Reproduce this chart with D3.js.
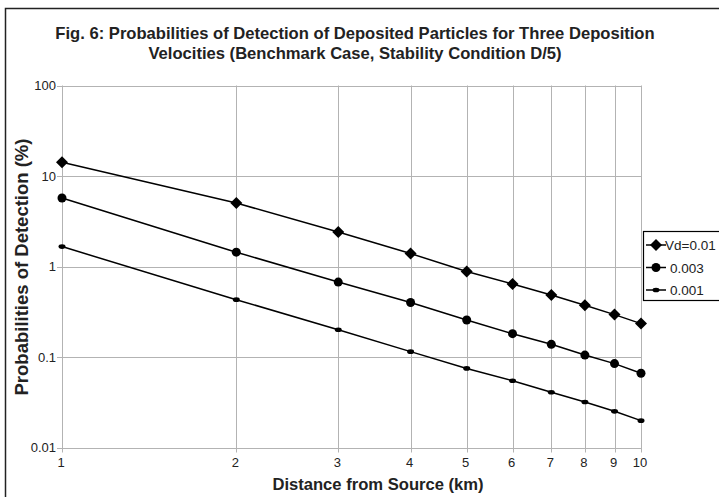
<!DOCTYPE html>
<html lang="en">
  <head>
    <meta charset="utf-8">
    <title>Fig. 6</title>
    <style>
      body { margin: 0; background: #fff; }
      svg { display: block; font-family: "Liberation Sans", Arial, sans-serif; }
    </style>
  </head>
  <body>
    <svg class="chart"></svg>

    <script src="https://d3js.org/d3.v7.min.js"></script>
    <script type="text/javascript">
      // data
      var distances = [1, 2, 3, 4, 5, 6, 7, 8, 9, 10];
      var vd001 = [14.2, 5.03, 2.40, 1.39, 0.88, 0.64, 0.484, 0.373, 0.294, 0.234];
      var vd0003 = [5.71, 1.44, 0.673, 0.40, 0.256, 0.181, 0.138, 0.105, 0.0845, 0.0662];
      var vd0001 = [1.66, 0.43, 0.200, 0.1146, 0.0748, 0.0546, 0.0408, 0.0318, 0.0251, 0.0198];
      var seriesNames = ['Vd=0.01', '0.003', '0.001'];
      var yTicks = [0.01, 0.1, 1, 10, 100];
      var xTicks = [1, 2, 3, 4, 5, 6, 7, 8, 9, 10];

      var w = 719, h = 497;
      var svg = d3.select('.chart').attr('width', w).attr('height', h);

      // outer frame
      svg.append('rect')
         .attr('x', 5.5).attr('y', 8.5)
         .attr('width', 740).attr('height', 520)
         .attr('fill', 'none')
         .attr('stroke', '#222')
         .attr('stroke-width', 1.5);

      var pLeft = 62, pRight = 641, pTop = 85.5, pBottom = 447.5;

      var x = d3.scaleLog().domain([1, 10]).range([pLeft, pRight]);
      var y = d3.scaleLog().domain([0.01, 100]).range([pBottom, pTop]);

      // gridlines
      svg.append('g').selectAll('line')
         .data(xTicks)
         .enter().append('line')
         .attr('x1', function(d) { return Math.round(x(d)) + 0.5; })
         .attr('x2', function(d) { return Math.round(x(d)) + 0.5; })
         .attr('y1', pTop).attr('y2', pBottom + 5)
         .attr('stroke', '#b3b3b3').attr('stroke-width', 1);

      svg.append('g').selectAll('line')
         .data(yTicks)
         .enter().append('line')
         .attr('x1', pLeft - 5).attr('x2', pRight)
         .attr('y1', function(d) { return Math.round(y(d)) + 0.5; })
         .attr('y2', function(d) { return Math.round(y(d)) + 0.5; })
         .attr('stroke', '#b3b3b3').attr('stroke-width', 1);

      // tick labels
      svg.append('g').selectAll('text')
         .data(yTicks)
         .enter().append('text')
         .attr('x', pLeft - 6)
         .attr('y', function(d) { return y(d) + 4.5; })
         .attr('text-anchor', 'end')
         .attr('font-size', 13)
         .attr('fill', '#222')
         .text(function(d) { return d; });

      svg.append('g').selectAll('text')
         .data(xTicks)
         .enter().append('text')
         .attr('x', function(d) { return x(d) - 1; })
         .attr('y', pBottom + 19)
         .attr('text-anchor', 'middle')
         .attr('font-size', 13)
         .attr('fill', '#222')
         .text(function(d) { return d; });

      // titles
      var title = svg.append('text')
         .attr('text-anchor', 'middle')
         .attr('font-size', 16.6)
         .attr('font-weight', 'bold')
         .attr('fill', '#222');
      title.append('tspan').attr('x', 355).attr('y', 39)
           .text('Fig. 6: Probabilities of Detection of Deposited Particles for Three Deposition');
      title.append('tspan').attr('x', 355).attr('y', 59)
           .text('Velocities (Benchmark Case, Stability Condition D/5)');

      svg.append('text')
         .attr('x', 378).attr('y', 490)
         .attr('text-anchor', 'middle')
         .attr('font-size', 16.6)
         .attr('font-weight', 'bold')
         .attr('fill', '#222')
         .text('Distance from Source (km)');

      svg.append('text')
         .attr('transform', 'translate(28,267) rotate(-90)')
         .attr('text-anchor', 'middle')
         .attr('font-size', 18.5)
         .attr('font-weight', 'bold')
         .attr('fill', '#222')
         .text('Probabilities of Detection (%)');

      // series
      var allSeries = [vd001, vd0003, vd0001];
      var line = d3.line()
         .x(function(d, i) { return x(distances[i]); })
         .y(function(d) { return y(d); });

      function drawMarker(g, k) {
        if (k === 0) {
          g.append('path').attr('d', 'M0,-6L6,0L0,6L-6,0Z').attr('fill', '#000');
        } else if (k === 1) {
          g.append('circle').attr('r', 4.5).attr('fill', '#000');
        } else {
          g.append('ellipse').attr('rx', 3.5).attr('ry', 2.3).attr('fill', '#000');
        }
      }

      allSeries.forEach(function(vals, k) {
        svg.append('path')
           .datum(vals)
           .attr('d', line)
           .attr('fill', 'none')
           .attr('stroke', '#000')
           .attr('stroke-width', 1.5);

        svg.append('g').selectAll('g')
           .data(vals)
           .enter().append('g')
           .attr('transform', function(d, i) {
             return 'translate(' + x(distances[i]) + ',' + y(d) + ')';
           })
           .each(function() { drawMarker(d3.select(this), k); });
      });

      // legend
      var lg = svg.append('g');
      lg.append('rect')
        .attr('x', 643.5).attr('y', 231.5)
        .attr('width', 90).attr('height', 69)
        .attr('fill', '#fff')
        .attr('stroke', '#000')
        .attr('stroke-width', 1.2);

      seriesNames.forEach(function(name, k) {
        var ly = 245 + k * 22.5;
        lg.append('line')
          .attr('x1', 646).attr('x2', 666)
          .attr('y1', ly).attr('y2', ly)
          .attr('stroke', '#000').attr('stroke-width', 1.5);
        drawMarker(lg.append('g').attr('transform', 'translate(656,' + ly + ')'), k);
        lg.append('text')
          .attr('x', k === 0 ? 665 : 670)
          .attr('y', ly + 5)
          .attr('font-size', 13.5)
          .attr('fill', '#222')
          .text(name);
      });
    </script>
  </body>
</html>
